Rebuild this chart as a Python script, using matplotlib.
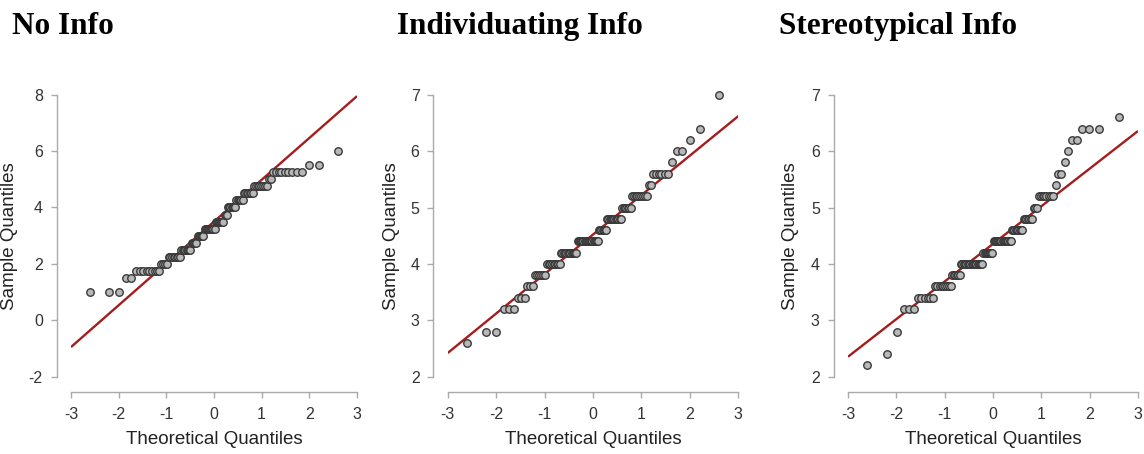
import numpy as np
import matplotlib
matplotlib.use("Agg")
import matplotlib.pyplot as plt
from statistics import NormalDist

# panel titles
titles = ["No Info", "Individuating Info", "Stereotypical Info"]

# sample values (distinct levels) and how many observations sit at each level
no_info_values = [1.0, 1.5, 1.75, 2.0, 2.25, 2.5, 2.75, 3.0, 3.25, 3.5,
                  3.75, 4.0, 4.25, 4.5, 4.75, 5.0, 5.25, 5.5, 6.0]
no_info_counts = [3, 2, 9, 4, 8, 8, 5, 6, 10, 8,
                  3, 7, 6, 7, 8, 2, 9, 2, 1]

indiv_values = [2.6, 2.8, 3.2, 3.4, 3.6, 3.8, 4.0, 4.2, 4.4, 4.6,
                4.8, 5.0, 5.2, 5.4, 5.6, 5.8, 6.0, 6.2, 6.4, 7.0]
indiv_counts = [1, 2, 3, 3, 3, 6, 9, 13, 19, 7,
                12, 7, 9, 2, 6, 1, 2, 1, 1, 1]

stereo_values = [2.2, 2.4, 2.8, 3.2, 3.4, 3.6, 3.8, 4.0, 4.2, 4.4,
                 4.6, 4.8, 5.0, 5.2, 5.4, 5.6, 5.8, 6.0, 6.2, 6.4, 6.6]
stereo_counts = [1, 1, 1, 3, 6, 9, 6, 18, 9, 16,
                 9, 7, 3, 8, 1, 2, 1, 1, 2, 3, 1]

# reference lines (value at 0, slope)
line_intercepts = [3.5, 4.52, 4.355]
line_slopes = [1.483, 0.70, 0.667]

# axis ticks
x_ticks = [-3, -2, -1, 0, 1, 2, 3]
y_ticks = [[-2, 0, 2, 4, 6, 8], [2, 3, 4, 5, 6, 7], [2, 3, 4, 5, 6, 7]]

panels = [(no_info_values, no_info_counts),
          (indiv_values, indiv_counts),
          (stereo_values, stereo_counts)]

plt.rcParams['font.family'] = ['Liberation Sans', 'DejaVu Sans']

fig = plt.figure(figsize=(11.44, 4.54), dpi=100)
W, H = 1144, 454

# axes boxes in pixels: left, width (data region -3..3)
boxes = [(71, 286), (447.7, 290.6), (848, 290)]
ax_bottom, ax_height = 376.7, 282
ylab_x = [10, 391.7, 790.7]
title_x = [11.7, 397, 779]

nd = NormalDist()
for i, ((vals, cnts), (left, width)) in enumerate(zip(panels, boxes)):
    ax = fig.add_axes([left / W, (H - ax_bottom) / H, width / W, ax_height / H])
    sample = np.repeat(vals, cnts)
    n = len(sample)
    theo = np.array([nd.inv_cdf((k - 0.5) / n) for k in range(1, n + 1)])

    xl = np.array([x_ticks[0], x_ticks[-1]])
    ax.plot(xl, line_intercepts[i] + line_slopes[i] * xl, color="#a51c1c",
            lw=1.7, zorder=2, solid_capstyle="butt")
    ax.plot(theo, sample, "o", ms=5.4, mfc="#b8b8b8", mec="#3a3a3a",
            mew=1.0, zorder=3, clip_on=False)

    ax.set_xlim(x_ticks[0], x_ticks[-1])
    ax.set_ylim(y_ticks[i][0], y_ticks[i][-1])
    ax.set_xticks(x_ticks)
    ax.set_yticks(y_ticks[i])
    ax.set_xticklabels([str(t) for t in x_ticks])
    ax.set_yticklabels([str(t) for t in y_ticks[i]])

    for s in ["top", "right"]:
        ax.spines[s].set_visible(False)
    ax.spines["left"].set_position(("outward", 10.3))
    ax.spines["bottom"].set_position(("outward", 10.8))
    ax.spines["left"].set_bounds(y_ticks[i][0], y_ticks[i][-1])
    ax.spines["bottom"].set_bounds(x_ticks[0], x_ticks[-1])
    for s in ["left", "bottom"]:
        ax.spines[s].set_color("#aaaaaa")
        ax.spines[s].set_linewidth(1.0)
    ax.tick_params(length=4, width=1, color="#aaaaaa", labelcolor="#333333",
                   labelsize=11.5)
    ax.tick_params(axis="y", pad=6)
    ax.tick_params(axis="x", pad=7)
    ax.patch.set_alpha(0)

    ax.set_xlabel("Theoretical Quantiles", fontsize=13.5, color="#222222")
    ax.set_ylabel("Sample Quantiles", fontsize=13.5, color="#222222")
    ax.xaxis.set_label_coords(0.5, (ax_bottom - 440) / ax_height)
    ax.xaxis.label.set_va("center")
    ax.yaxis.set_label_coords((ylab_x[i] - left) / width, 0.5)
    ax.yaxis.label.set_va("center")

    fig.text(title_x[i] / W, 1 - 34.3 / H, titles[i], fontsize=22.5,
             fontweight="bold", family="Liberation Serif", va="baseline",
             ha="left", color="black")

fig.savefig("out.png", dpi=100)
